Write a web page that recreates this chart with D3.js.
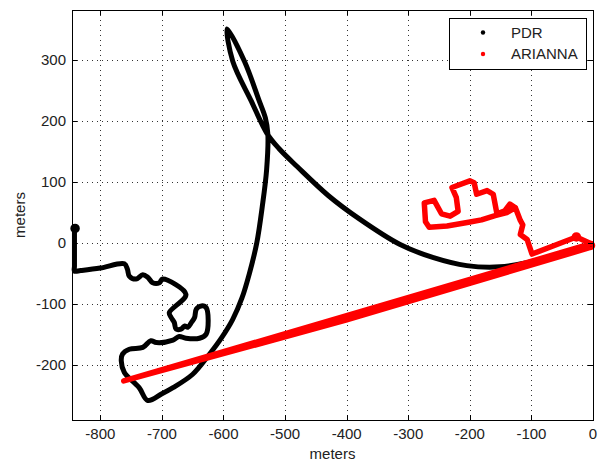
<!DOCTYPE html>
<html>
<head>
<meta charset="utf-8">
<script src="https://cdn.jsdelivr.net/npm/d3@7"></script>
<style>
  body { margin: 0; background: #fff; }
  svg { display: block; font-family: "Liberation Sans", Arial, sans-serif; }
</style>
</head>
<body>
<svg id="chart" width="604" height="462"></svg>
<script>
// tick values
const xTicks = [-800, -700, -600, -500, -400, -300, -200, -100, 0];
const yTicks = [-200, -100, 0, 100, 200, 300];

const seriesNames = ['PDR', 'ARIANNA'];
const seriesColors = ['#000000', '#ff0000'];

// PDR track (meters)
const pdrPath = [
  [-842, 24], [-842, -38], [-842, -46], [-832, -45], [-800, -41], [-761, -34], [-756, -43], [-753, -54],
  [-742, -59], [-731, -52], [-723, -56], [-715, -65], [-704, -65], [-699, -59],
  [-661, -84], [-688, -114], [-685, -122], [-680, -130], [-677, -141], [-669, -141],
  [-663, -136], [-658, -138], [-652, -130], [-647, -122], [-644, -108], [-636, -103],
  [-628, -106], [-628, -149], [-639, -156], [-661, -156], [-672, -153], [-682, -159],
  [-709, -163], [-718, -160], [-731, -171], [-753, -174], [-764, -182], [-766, -193],
  [-761, -212], [-737, -237], [-723, -258], [-700, -247], [-682, -237], [-650, -215],
  [-625, -185], [-603, -155], [-585, -125], [-570, -90], [-558, -50], [-546, 0],
  [-537, 60], [-530, 120], [-528, 179], [-532, 205], [-542, 233], [-566, 298],
  [-594, 351], [-585, 298], [-555, 233], [-529, 179], [-510, 155], [-480, 125],
  [-430, 78], [-380, 40], [-314, -2], [-259, -24], [-205, -37], [-151, -39],
  [-107, -32], [-60, -20], [-3, -3]
];
const pdrLoops = [[-841, 24]];

// ARIANNA track (meters)
const ariannaPath = [
  [-7, -8], [-400, -126], [-762, -226], [-400, -119], [-3, -1],
  [-27, 10], [-99, -18], [-107, 6], [-118, 14], [-114, 30], [-118, 37],
  [-126, 58], [-135, 64], [-143, 53], [-156, 48], [-162, 80], [-172, 86],
  [-189, 80], [-193, 99], [-200, 102], [-229, 91], [-222, 75], [-219, 52],
  [-232, 44], [-246, 48], [-258, 70], [-274, 66], [-272, 35], [-266, 26],
  [-237, 28], [-202, 34], [-181, 38], [-159, 45], [-140, 50], [-126, 58]
];
const ariannaLoops = [[-4, -4], [-27, 10]];

const svg = d3.select('#chart');
const plot = { left: 72, top: 10, right: 593, bottom: 420 };

const x = d3.scaleLinear().domain([-846, 0]).range([plot.left, plot.right]);
const y = d3.scaleLinear().domain([-290, 382]).range([plot.bottom, plot.top]);

svg.append('rect').attr('width', 604).attr('height', 462).attr('fill', '#fff');

// dotted grid
const grid = svg.append('g').attr('stroke', '#333').attr('stroke-width', 1)
  .attr('stroke-dasharray', '1,4');
grid.selectAll('.gx').data(xTicks.filter(d => d > -846 && d < 0)).enter().append('line')
  .attr('x1', d => Math.round(x(d)) + 0.5).attr('x2', d => Math.round(x(d)) + 0.5)
  .attr('y1', plot.top).attr('y2', plot.bottom);
grid.selectAll('.gy').data(yTicks).enter().append('line')
  .attr('y1', d => Math.round(y(d)) + 0.5).attr('y2', d => Math.round(y(d)) + 0.5)
  .attr('x1', plot.left).attr('x2', plot.right);

// tracks
const smooth = d3.line().x(d => x(d[0])).y(d => y(d[1])).curve(d3.curveCatmullRom.alpha(0.5));
const straight = d3.line().x(d => x(d[0])).y(d => y(d[1]));
const tracks = [
  { path: pdrPath, loops: pdrLoops, color: seriesColors[0], w: 5, gen: smooth },
  { path: ariannaPath, loops: ariannaLoops, color: seriesColors[1], w: 5.5, gen: straight }
];
tracks.forEach(t => {
  svg.append('path').datum(t.path)
    .attr('d', t.gen)
    .attr('fill', 'none')
    .attr('stroke', t.color)
    .attr('stroke-width', t.w)
    .attr('stroke-linejoin', 'round')
    .attr('stroke-linecap', 'round');
  svg.selectAll(null).data(t.loops).enter().append('circle')
    .attr('cx', d => x(d[0])).attr('cy', d => y(d[1]))
    .attr('r', 3)
    .attr('fill', 'none')
    .attr('stroke', t.color)
    .attr('stroke-width', 3.5);
});

// frame + inside ticks on all sides
const axes = svg.append('g').attr('stroke', '#000').attr('stroke-width', 1).attr('fill', 'none');
axes.append('rect')
  .attr('x', plot.left + 0.5).attr('y', plot.top + 0.5)
  .attr('width', plot.right - plot.left).attr('height', plot.bottom - plot.top);
xTicks.forEach(v => {
  const px = Math.round(x(v)) + 0.5;
  axes.append('line').attr('x1', px).attr('x2', px).attr('y1', plot.bottom).attr('y2', plot.bottom - 5);
  axes.append('line').attr('x1', px).attr('x2', px).attr('y1', plot.top).attr('y2', plot.top + 5);
});
yTicks.forEach(v => {
  const py = Math.round(y(v)) + 0.5;
  axes.append('line').attr('y1', py).attr('y2', py).attr('x1', plot.left).attr('x2', plot.left + 5);
  axes.append('line').attr('y1', py).attr('y2', py).attr('x1', plot.right).attr('x2', plot.right - 5);
});

// tick labels
const fs = 15;
svg.append('g').selectAll('text').data(xTicks).enter().append('text')
  .attr('x', d => x(d)).attr('y', 439)
  .attr('text-anchor', 'middle').attr('font-size', fs).attr('fill', '#222')
  .text(d => d);
svg.append('g').selectAll('text').data(yTicks).enter().append('text')
  .attr('x', 66).attr('y', d => y(d) + 5.3)
  .attr('text-anchor', 'end').attr('font-size', fs).attr('fill', '#222')
  .text(d => d);

// axis titles
svg.append('text').attr('x', (plot.left + plot.right) / 2).attr('y', 459)
  .attr('text-anchor', 'middle').attr('font-size', fs).attr('fill', '#222').text('meters');
svg.append('text').attr('transform', `translate(25,${(plot.top + plot.bottom) / 2}) rotate(-90)`)
  .attr('text-anchor', 'middle').attr('font-size', fs).attr('fill', '#222').text('meters');

// legend
const lg = svg.append('g');
lg.append('rect').attr('x', 449.5).attr('y', 18.5).attr('width', 137).attr('height', 51)
  .attr('fill', '#fff').attr('stroke', '#000');
seriesNames.forEach((name, i) => {
  const cy = 32.5 + i * 21.5;
  lg.append('circle').attr('cx', 483).attr('cy', cy).attr('r', 2.2).attr('fill', seriesColors[i]);
  lg.append('text').attr('x', 511).attr('y', cy + 5.3)
    .attr('font-size', fs).attr('fill', '#222').text(name);
});
</script>
</body>
</html>
